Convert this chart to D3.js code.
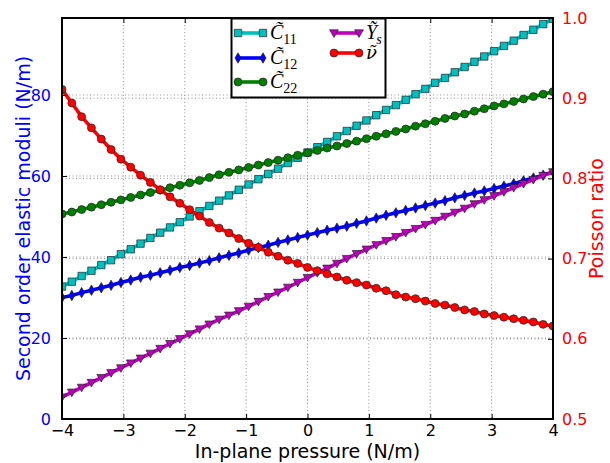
<!DOCTYPE html>
<html><head><meta charset="utf-8">
<script src="https://cdn.jsdelivr.net/npm/d3@7"></script>
<style>body{margin:0;background:#fff}svg{display:block}</style>
</head><body>
<svg id="c" width="610" height="463"></svg>
<script>
const pressure = [-4.00,-3.84,-3.68,-3.52,-3.36,-3.20,-3.04,-2.88,-2.72,-2.56,-2.40,-2.24,-2.08,-1.92,-1.76,-1.60,-1.44,-1.28,-1.12,-0.96,-0.80,-0.64,-0.48,-0.32,-0.16,0.00,0.16,0.32,0.48,0.64,0.80,0.96,1.12,1.28,1.44,1.60,1.76,1.92,2.08,2.24,2.40,2.56,2.72,2.88,3.04,3.20,3.36,3.52,3.68,3.84,4.00];
const C11 = [32.7,33.9,35.3,36.6,38.0,39.2,40.7,41.9,43.3,44.7,46.0,47.3,48.6,50.0,51.3,52.6,53.9,55.2,56.6,57.9,59.2,60.5,61.8,63.2,64.5,65.8,67.1,68.4,69.8,71.1,72.4,73.7,75.0,76.3,77.5,78.8,80.2,81.5,83.0,84.2,85.6,86.9,88.2,89.5,90.8,92.1,93.4,94.8,96.1,97.5,98.8];
const C12 = [30.0,30.5,31.2,31.8,32.4,33.0,33.7,34.3,35.0,35.5,36.1,36.7,37.4,37.9,38.5,39.1,39.8,40.4,41.0,41.7,42.3,42.9,43.6,44.2,44.8,45.4,46.0,46.6,47.1,47.6,48.3,48.9,49.6,50.3,50.9,51.5,52.1,52.7,53.3,53.9,54.6,55.2,55.8,56.3,56.9,57.5,58.1,58.8,59.5,60.2,61.0];
const C22 = [50.6,51.1,51.7,52.3,52.9,53.5,54.1,54.7,55.3,55.9,56.5,57.1,57.7,58.3,58.9,59.6,60.3,60.9,61.5,62.1,62.7,63.3,63.9,64.5,65.1,65.7,66.3,66.9,67.4,68.0,68.6,69.2,69.8,70.4,71.0,71.6,72.3,72.9,73.5,74.2,74.8,75.3,76.0,76.6,77.3,77.8,78.4,79.0,79.6,80.2,80.8];
const Ys = [5.4,6.6,7.8,9.0,10.2,11.4,12.6,13.8,15.0,16.2,17.4,18.6,19.8,21.0,22.2,23.4,24.6,25.6,26.7,27.8,29.0,30.2,31.3,32.5,33.7,34.9,36.1,37.2,38.4,39.6,40.8,41.9,43.0,44.0,45.0,46.0,47.0,48.0,49.0,50.0,51.0,52.0,53.1,54.1,55.1,56.1,57.1,58.1,59.1,60.1,61.0];
const nu = [0.911,0.894,0.877,0.863,0.849,0.836,0.824,0.814,0.804,0.795,0.786,0.777,0.769,0.761,0.753,0.745,0.738,0.732,0.725,0.719,0.714,0.708,0.703,0.698,0.694,0.689,0.685,0.681,0.677,0.673,0.670,0.667,0.663,0.660,0.655,0.652,0.650,0.647,0.644,0.642,0.639,0.636,0.634,0.631,0.629,0.627,0.625,0.623,0.621,0.618,0.616];
const xTicks = [-4,-3,-2,-1,0,1,2,3,4];
const yLeftTicks = [0,20,40,60,80];
const yRightTicks = [0.5,0.6,0.7,0.8,0.9,1.0];

const L=62,R=553,T=18,B=419;
const svg = d3.select("#c");
const x = d3.scaleLinear([-4,4],[L,R]);
const yL = d3.scaleLinear([0,99],[B,T]);
const yR = d3.scaleLinear([0.5,1.0],[B,T]);
const SANS = "DejaVu Sans";

svg.append("defs").append("clipPath").attr("id","clip")
  .append("rect").attr("x",L).attr("y",T).attr("width",R-L).attr("height",B-T);

// grid
const grid = svg.append("g").attr("stroke","#000").attr("stroke-width",0.6)
  .attr("stroke-dasharray","1,2.5").attr("opacity",0.7);
xTicks.slice(1,-1).forEach(t=>grid.append("line").attr("x1",x(t)).attr("x2",x(t)).attr("y1",T).attr("y2",B));
yLeftTicks.slice(1).forEach(t=>grid.append("line").attr("x1",L).attr("x2",R).attr("y1",yL(t)).attr("y2",yL(t)));
yRightTicks.slice(1,-1).forEach(t=>grid.append("line").attr("x1",L).attr("x2",R).attr("y1",yR(t)).attr("y2",yR(t)));

// series
const series = [
  {name:"C11", vals:C11, y:yL, color:"#00bfbf", marker:"square"},
  {name:"C12", vals:C12, y:yL, color:"#0000ff", marker:"thin_diamond"},
  {name:"C22", vals:C22, y:yL, color:"#008000", marker:"circle"},
  {name:"Ys", vals:Ys, y:yL, color:"#bf00bf", marker:"tri_down"},
  {name:"nu", vals:nu, y:yR, color:"#ff0000", marker:"circle"}
];
function markerPath(kind){
  if(kind==="square") return "M-3.7,-3.7H3.7V3.7H-3.7Z";
  if(kind==="thin_diamond") return "M0,-5.2L3,0L0,5.2L-3,0Z";
  if(kind==="circle") return d3.symbol(d3.symbolCircle, 50)();
  if(kind==="tri_down") return "M-4.4,-3.2H4.4L0,4.4Z";
}
const plot = svg.append("g").attr("clip-path","url(#clip)");
series.forEach(s=>{
  const g = plot.append("g");
  const line = d3.line().x((d,i)=>x(pressure[i])).y(d=>s.y(d));
  g.append("path").attr("d",line(s.vals)).attr("fill","none").attr("stroke",s.color)
    .attr("stroke-width",3.6).attr("stroke-linejoin","round").attr("stroke-linecap","butt");
  g.selectAll("path.m").data(s.vals).join("path").attr("class","m")
    .attr("d",markerPath(s.marker))
    .attr("transform",(d,i)=>`translate(${x(pressure[i])},${s.y(d)})`)
    .attr("fill",s.color).attr("stroke","#222").attr("stroke-width",0.7);
});

// axes
const axB = svg.append("g").attr("transform",`translate(0,${B})`)
  .call(d3.axisBottom(x).tickValues(xTicks).tickSizeInner(-5).tickSizeOuter(0).tickPadding(6).tickFormat(d3.format("d")));
const axT = svg.append("g").attr("transform",`translate(0,${T})`)
  .call(d3.axisTop(x).tickValues(xTicks).tickSizeInner(-5).tickSizeOuter(0).tickFormat(""));
const axL = svg.append("g").attr("transform",`translate(${L},0)`)
  .call(d3.axisLeft(yL).tickValues(yLeftTicks).tickSizeInner(-5).tickSizeOuter(0).tickPadding(11).tickFormat(d3.format("d")));
const axR = svg.append("g").attr("transform",`translate(${R},0)`)
  .call(d3.axisRight(yR).tickValues(yRightTicks).tickSizeInner(-5).tickSizeOuter(0).tickPadding(9).tickFormat(d3.format(".1f")));
[axB,axT,axL,axR].forEach(a=>{a.select(".domain").remove();a.selectAll("line").attr("stroke","#000").attr("stroke-width",1);
  a.selectAll("text").attr("font-family",SANS).attr("font-size",16);});
axL.selectAll("text").attr("fill","#0000ff");
axR.selectAll("text").attr("fill","#ff0000");
axB.selectAll("text").attr("fill","#000");

// frame
svg.append("rect").attr("x",L).attr("y",T).attr("width",R-L).attr("height",B-T)
  .attr("fill","none").attr("stroke","#000").attr("stroke-width",2);

// axis labels
svg.append("text").attr("x",(L+R)/2).attr("y",458).attr("text-anchor","middle")
  .attr("font-family",SANS).attr("font-size",19).attr("fill","#000").text("In-plane pressure (N/m)");
svg.append("text").attr("transform",`translate(30,${(T+B)/2}) rotate(-90)`).attr("text-anchor","middle")
  .attr("font-family",SANS).attr("font-size",19).attr("fill","#0000ff").text("Second order elastic moduli (N/m)");
svg.append("text").attr("transform",`translate(603,${(T+B)/2}) rotate(-90)`).attr("text-anchor","middle")
  .attr("font-family",SANS).attr("font-size",19).attr("fill","#ff0000").text("Poisson ratio");

// legend
const leg = svg.append("g");
leg.append("rect").attr("x",231.5).attr("y",18.5).attr("width",154).attr("height",79)
  .attr("fill","#fff").attr("stroke","#000").attr("stroke-width",2);
const legItems = [
  {s:series[0], lx:238, ly:33, main:"C\u0303", sub:"11", subItalic:false, font:"Liberation Serif"},
  {s:series[1], lx:238, ly:58, main:"C\u0303", sub:"12", subItalic:false, font:"Liberation Serif"},
  {s:series[2], lx:238, ly:82, main:"C\u0303", sub:"22", subItalic:false, font:"Liberation Serif"},
  {s:series[3], lx:334, ly:33, main:"Y\u0303", sub:"s", subItalic:true, font:"Liberation Serif"},
  {s:series[4], lx:334, ly:53, main:"\u03BD\u0303", sub:"", subItalic:false, font:"DejaVu Serif"}
];
legItems.forEach(it=>{
  const g = leg.append("g");
  g.append("line").attr("x1",it.lx).attr("x2",it.lx+25).attr("y1",it.ly).attr("y2",it.ly)
    .attr("stroke",it.s.color).attr("stroke-width",3.6);
  [it.lx, it.lx+25].forEach(px=>g.append("path").attr("d",markerPath(it.s.marker))
    .attr("transform",`translate(${px},${it.ly})`).attr("fill",it.s.color).attr("stroke","#222").attr("stroke-width",0.7));
  const tx = it.lx+32, base = it.ly+6;
  const t = g.append("text").attr("x",tx).attr("y",base).attr("font-family",it.font)
    .attr("font-size",it.font==="DejaVu Serif"?18:20).attr("fill","#000");
  t.append("tspan").attr("font-style","italic").text(it.main);
  if(it.sub) t.append("tspan").attr("font-size",14).attr("dy",5).attr("dx",it.main.startsWith("Y")?-1:0)
    .attr("font-style",it.subItalic?"italic":"normal").text(it.sub);
});
</script>
</body></html>
